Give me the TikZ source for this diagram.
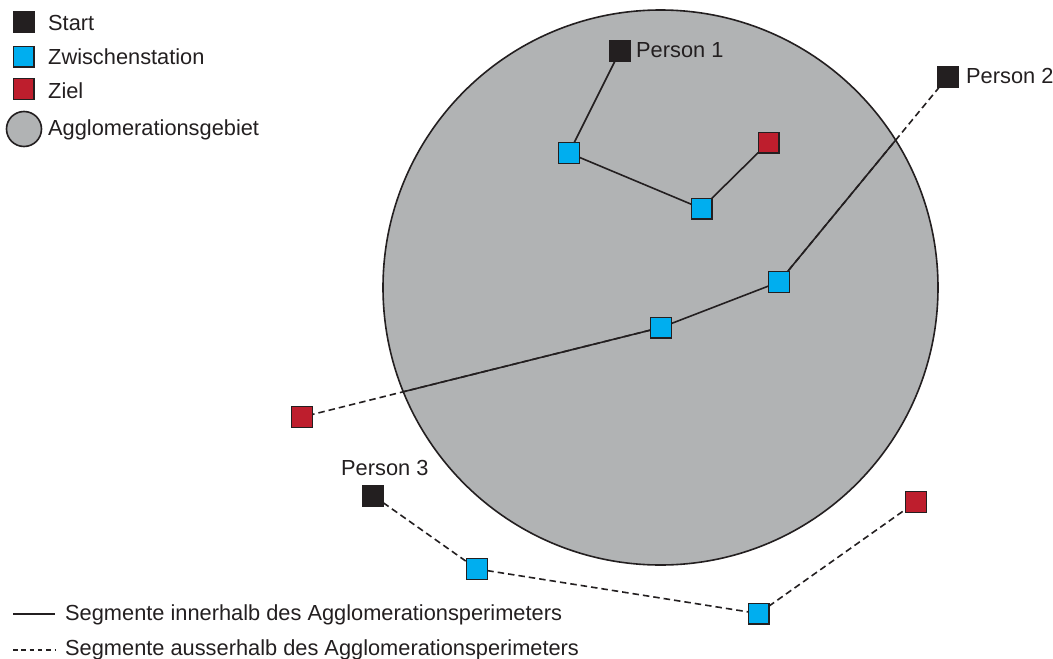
\documentclass[tikz,border=0pt]{standalone}
\usepackage{fontspec}
\setmainfont{Liberation Sans}
\definecolor{ink}{HTML}{231F20}
\definecolor{zwc}{HTML}{00AEEF}
\definecolor{zielc}{HTML}{BE1E2D}
\definecolor{aggc}{HTML}{B1B3B4}
\tikzset{
  sq/.style={draw=ink, line width=1.4pt, minimum size=20.6pt, inner sep=0pt, outer sep=0pt},
  startbox/.style={sq, fill=ink},
  zwbox/.style={sq, fill=zwc},
  zielbox/.style={sq, fill=zielc},
  seg/.style={draw=ink, line width=1.6pt},
  dseg/.style={seg, dash pattern=on 6.5pt off 4pt},
  legdseg/.style={seg, dash pattern=on 4.5pt off 3.8pt},
  lbl/.style={inner sep=0pt, anchor=base west, text=ink, font=\fontsize{21.8}{26}\selectfont}
}
\begin{document}
\begin{tikzpicture}[x=1pt, y=-1pt]
\useasboundingbox (0,0) rectangle (1053,659);
% agglomeration area
\node[circle, draw=ink, line width=1.6pt, fill=aggc, minimum size=555pt, inner sep=0pt] (agg) at (660.5,287.5) {};
% legend
\node[startbox] (lstart) at (23.5,22) {};
\node[lbl] (tstart) at (48,30) {Start};
\node[zwbox] (lzw) at (23.5,56.5) {};
\node[lbl] (tzw) at (48,64) {Zwischenstation};
\node[zielbox] (lziel) at (23.5,89) {};
\node[lbl] (tziel) at (48,98) {Ziel};
\node[circle, draw=ink, line width=1.6pt, fill=aggc, minimum size=35pt, inner sep=0pt] (lagg) at (24,129) {};
\node[lbl] (tagg) at (48,135) {Agglomerationsgebiet};
% person 1
\node[startbox] (p1) at (620,51) {};
\node[lbl] (tp1) at (636,57) {Person 1};
\node[zwbox] (a1) at (569,153) {};
\node[zwbox] (a2) at (701.5,208.5) {};
\node[zielbox] (z1) at (768.5,142.5) {};
% person 2
\node[startbox] (p2) at (948,76.5) {};
\node[lbl] (tp2) at (966,83) {Person 2};
\node[zwbox] (b1) at (779,282) {};
\node[zwbox] (b2) at (661,327.5) {};
\node[zielbox] (z2) at (302,417) {};
% person 3
\node[startbox] (p3) at (373,495.5) {};
\node[lbl] (tp3) at (341,475) {Person 3};
\node[zwbox] (c1) at (477,569) {};
\node[zwbox] (c2) at (758.5,613.5) {};
\node[zielbox] (z3) at (916,502) {};
% segments
\draw[seg] (p1) -- (a1);
\draw[seg] (a1) -- (a2);
\draw[seg] (a2) -- (z1);
\draw[dseg] (p2) -- (b1);
\draw[seg] (b1) -- (b2);
\draw[dseg] (b2) -- (z2);
\begin{scope}
  \clip (agg.center) circle[radius=277.5pt];
  \draw[seg] (p2) -- (b1);
  \draw[seg] (b2) -- (z2);
\end{scope}
\draw[dseg] (p3) -- (c1);
\draw[dseg] (c1) -- (c2);
\draw[dseg] (c2) -- (z3);
% line legend
\coordinate (ls1) at (13,614);
\coordinate (le1) at (55,614);
\draw[seg] (ls1) -- (le1);
\node[lbl] (tin) at (65,620) {Segmente innerhalb des Agglomerationsperimeters};
\coordinate (ls2) at (13,650);
\coordinate (le2) at (56,650);
\draw[legdseg] (ls2) -- (le2);
\node[lbl] (tout) at (65,655) {Segmente ausserhalb des Agglomerationsperimeters};
\end{tikzpicture}
\end{document}
